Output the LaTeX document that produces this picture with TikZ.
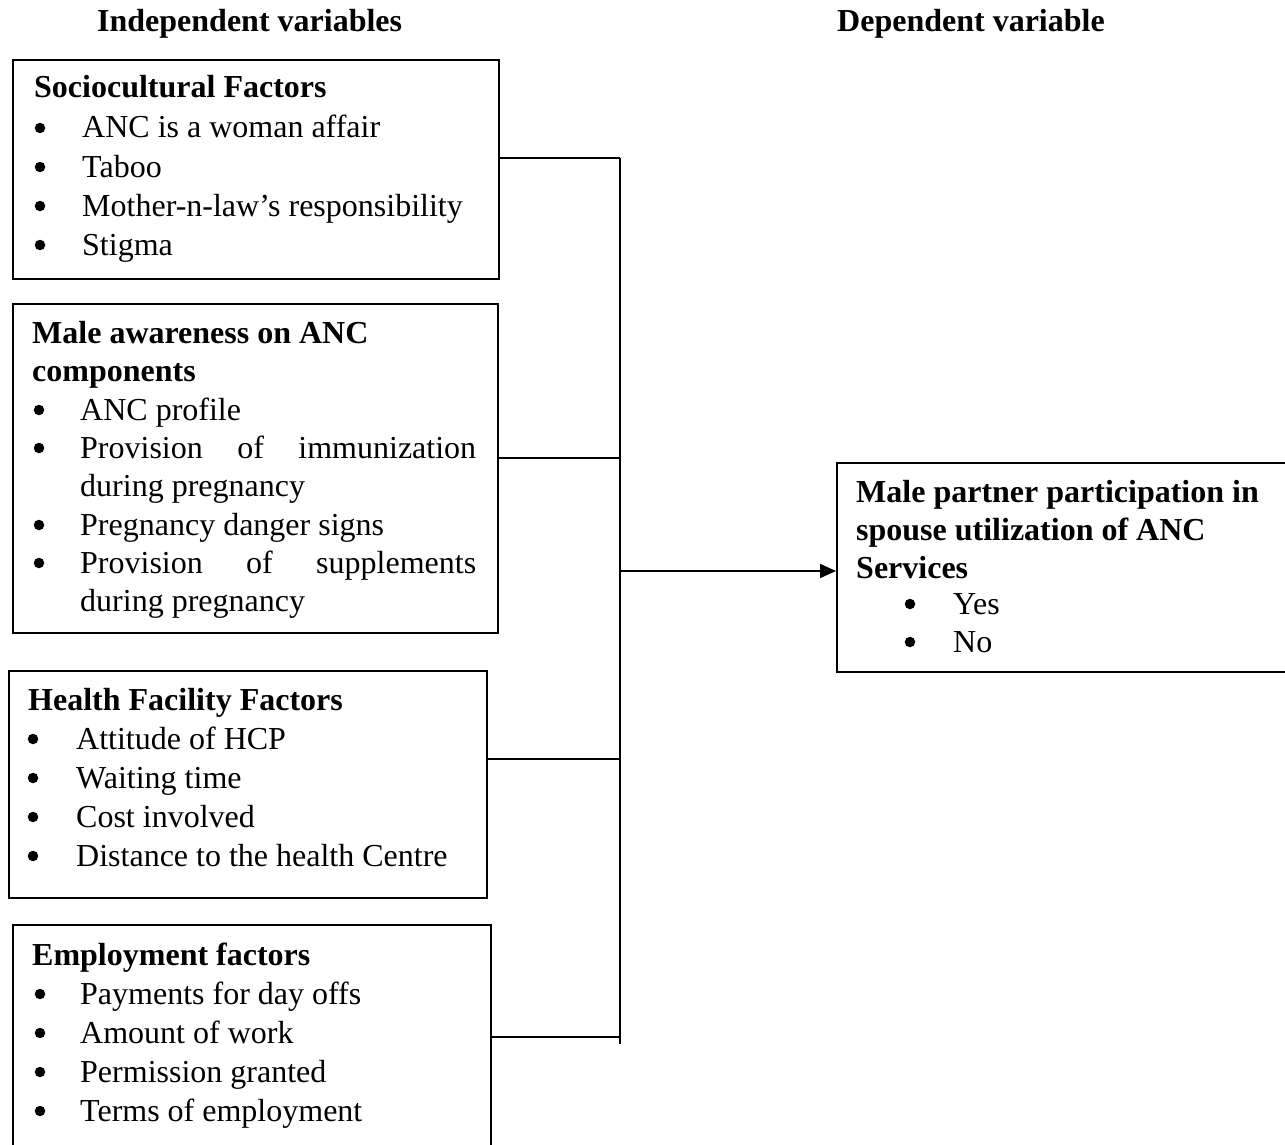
\documentclass[tikz,border=0pt]{standalone}
\usepackage{fontspec}
\setmainfont{Liberation Serif}
\usetikzlibrary{arrows.meta}
\begin{document}
\begin{tikzpicture}[x=1pt,y=-1pt,
  box/.style={draw, line width=1.8pt, rectangle, anchor=north west, inner sep=0pt},
  txt/.style={anchor=base west, inner sep=0pt, font=\fontsize{32}{38}\selectfont},
  head/.style={anchor=base west, inner sep=0pt, font=\fontsize{32}{38}\selectfont\bfseries},
  bul/.style={circle, fill=black, draw=none, inner sep=0pt, minimum size=10.5pt, yshift=10pt},
  wire/.style={line width=1.8pt}]
\useasboundingbox (0,0) rectangle (1285,1145);
% headings
\node[head] (hl) at (97,32) {Independent variables};
\node[head] (hr) at (837,32) {Dependent variable};
% boxes
\node[box, minimum width=486pt, minimum height=219pt] (b1) at (12,59) {};
\node[box, minimum width=485pt, minimum height=329pt] (b2) at (12,303) {};
\node[box, minimum width=478pt, minimum height=227pt] (b3) at (8,670) {};
\node[box, minimum width=478pt, minimum height=240pt] (b4) at (12,924) {};
\node[box, minimum width=449pt, minimum height=209pt] (rb) at (836,462) {};
% box 1
\node[head] (h1) at (34,98) {Sociocultural Factors};
\node[bul] (p1a) at (40,138) {}; \node[txt] (t1a) at (82,138) {ANC is a woman affair};
\node[bul] (p1b) at (40,177) {}; \node[txt] (t1b) at (82,177) {Taboo};
\node[bul] (p1c) at (40,216) {}; \node[txt] (t1c) at (82,216) {Mother-n-law’s responsibility};
\node[bul] (p1d) at (40,255) {}; \node[txt] (t1d) at (82,255) {Stigma};
% box 2
\node[head] (h2a) at (32,343) {Male awareness on ANC};
\node[head] (h2b) at (32,381) {components};
\node[bul] (p2a) at (39,420) {}; \node[txt] (t2a) at (80,420) {ANC profile};
\node[bul] (p2b) at (39,458) {}; \node[txt] (t2b) at (80,458) {\hbox to 396pt{Provision\hfill of\hfill immunization}};
\node[txt] (t2c) at (80,496) {during pregnancy};
\node[bul] (p2d) at (39,535) {}; \node[txt] (t2d) at (80,535) {Pregnancy danger signs};
\node[bul] (p2e) at (39,573) {}; \node[txt] (t2e) at (80,573) {\hbox to 396pt{Provision\hfill of\hfill supplements}};
\node[txt] (t2f) at (80,611) {during pregnancy};
% box 3
\node[head] (h3) at (28,710) {Health Facility Factors};
\node[bul] (p3a) at (33,749) {}; \node[txt] (t3a) at (76,749) {Attitude of HCP};
\node[bul] (p3b) at (33,788) {}; \node[txt] (t3b) at (76,788) {Waiting time};
\node[bul] (p3c) at (33,827) {}; \node[txt] (t3c) at (76,827) {Cost involved};
\node[bul] (p3d) at (33,866) {}; \node[txt] (t3d) at (76,866) {Distance to the health Centre};
% box 4
\node[head] (h4) at (32,965) {Employment factors};
\node[bul] (p4a) at (40,1004) {}; \node[txt] (t4a) at (80,1004) {Payments for day offs};
\node[bul] (p4b) at (40,1043) {}; \node[txt] (t4b) at (80,1043) {Amount of work};
\node[bul] (p4c) at (40,1082) {}; \node[txt] (t4c) at (80,1082) {Permission granted};
\node[bul] (p4d) at (40,1121) {}; \node[txt] (t4d) at (80,1121) {Terms of employment};
% right box
\node[head] (hr1) at (856,502) {Male partner participation in};
\node[head] (hr2) at (856,540) {spouse utilization of ANC};
\node[head] (hr3) at (856,578) {Services};
\node[bul] (pra) at (910,614) {}; \node[txt] (tra) at (953,614) {Yes};
\node[bul] (prb) at (910,652) {}; \node[txt] (trb) at (953,652) {No};
% connectors
\coordinate (j1) at (620,158);
\coordinate (j2) at (620,458);
\coordinate (j3) at (620,759);
\coordinate (j4) at (620,1037);
\coordinate (jend) at (620,1044);
\coordinate (ja) at (620,571);
\draw[wire] (j1) -- (jend);
\draw[wire] (j1 -| b1.east) -- (j1);
\draw[wire] (j2 -| b2.east) -- (j2);
\draw[wire] (j3 -| b3.east) -- (j3);
\draw[wire] (j4 -| b4.east) -- (j4);
\draw[wire, -{Triangle[length=16pt, width=14pt]}] (ja) -- (ja -| rb.west);
\end{tikzpicture}
\end{document}
